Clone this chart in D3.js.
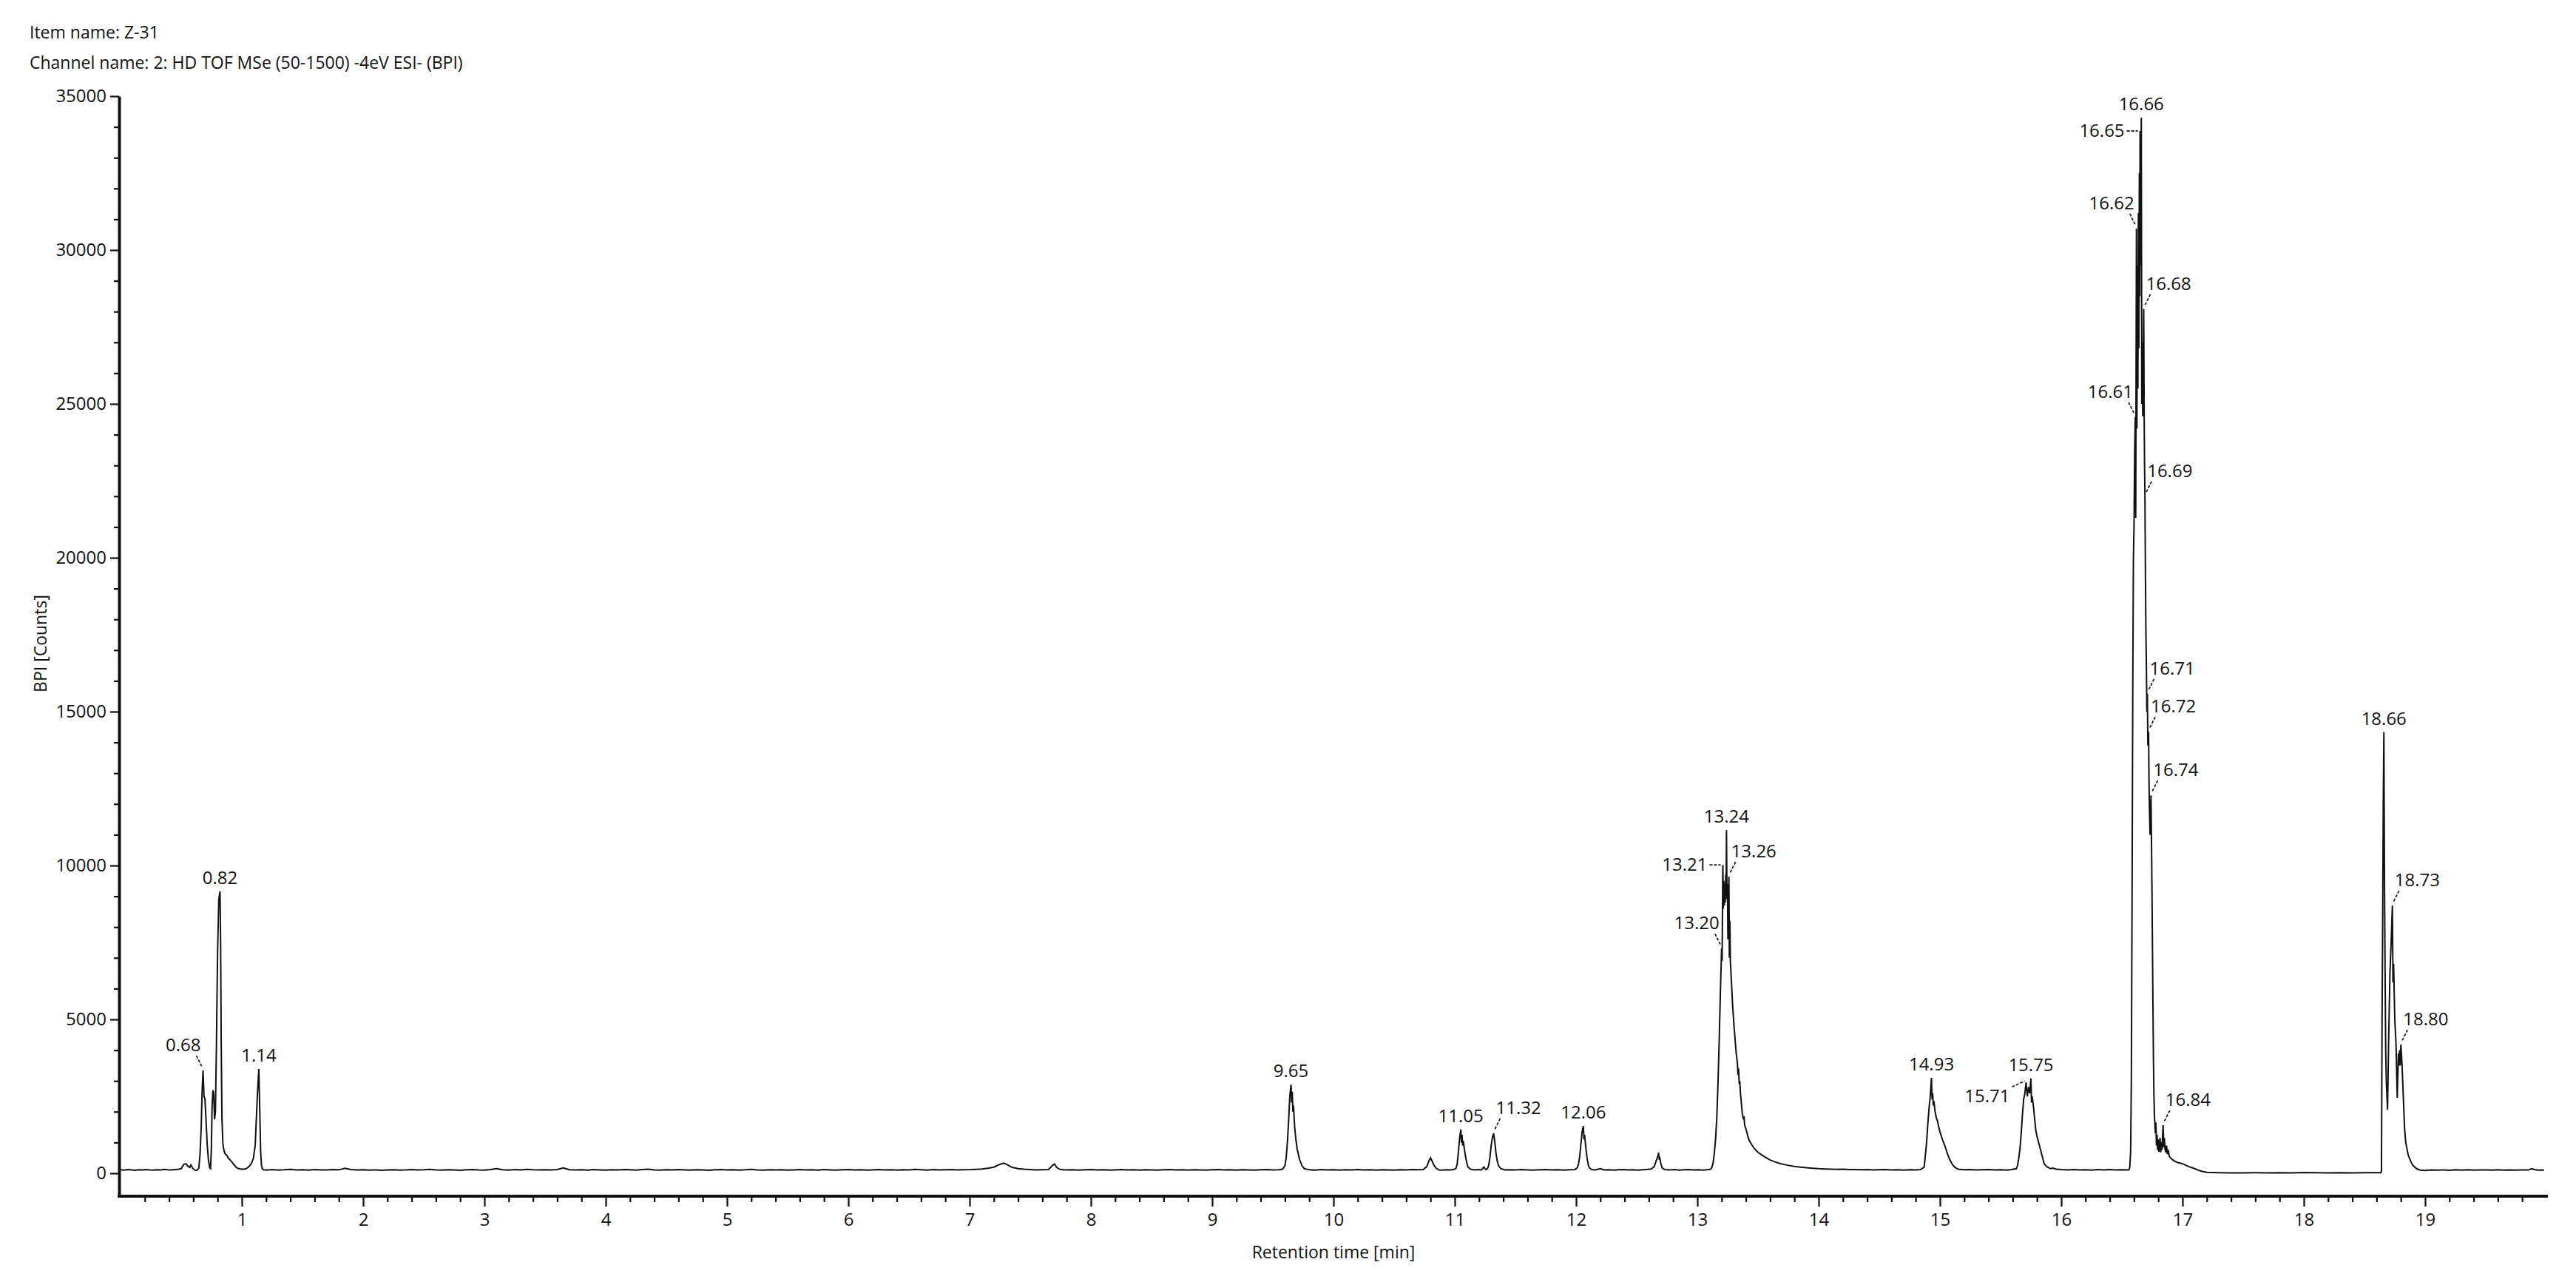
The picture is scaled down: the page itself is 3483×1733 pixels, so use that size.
<!DOCTYPE html>
<html><head><meta charset="utf-8">
<script src="https://cdn.jsdelivr.net/npm/d3@7"></script>
<style>
body{margin:0;background:#fff}
svg{display:block}
text{font-family:"Open Sans","Noto Sans",sans-serif;fill:#111}
</style>
</head><body>
<svg id="chart" width="3483" height="1733"></svg>
<script>
// ---------------- DATA ----------------
const itemName = "Item name: Z-31";
const channelName = "Channel name: 2: HD TOF MSe (50-1500) -4eV ESI- (BPI)";
const xAxisTitle = "Retention time [min]";
const yAxisTitle = "BPI [Counts]";
const xTickLabels = [1,2,3,4,5,6,7,8,9,10,11,12,13,14,15,16,17,18,19];
const yTickLabels = [0,5000,10000,15000,20000,25000,30000,35000];

// chromatogram trace, [retention time (min), BPI counts]
const traceStart = [[0.00,112],[0.03,104],[0.06,118],[0.09,108],[0.12,99],[0.15,113],[0.18,106],[0.21,120],[0.24,110],[0.27,103],[0.30,117],[0.33,108],[0.36,124],[0.39,112],[0.42,106],[0.45,121],[0.48,132],[0.50,150],[0.52,285],[0.54,310],[0.555,230],[0.57,190],[0.58,270],[0.595,160],[0.61,105],[0.63,98],[0.645,160],[0.655,600],[0.665,1500],[0.672,2600],[0.68,3340],[0.688,2500],[0.696,2420],[0.705,1700],[0.715,900],[0.725,420],[0.735,180],[0.742,150],[0.748,700],[0.755,2200],[0.762,2700],[0.768,2600],[0.775,1750],[0.782,2000],[0.79,4000],[0.80,7200],[0.81,8900],[0.82,9160],[0.825,7500],[0.83,4200],[0.836,1800],[0.843,1000],[0.85,780],[0.86,650],[0.87,600],[0.88,560],[0.89,480],[0.90,450],[0.91,400],[0.92,360],[0.93,300],[0.94,260],[0.95,210],[0.96,170],[0.98,145],[1.00,130],[1.02,135],[1.04,160],[1.06,220],[1.08,330],[1.095,480],[1.11,900],[1.12,1800],[1.13,2700],[1.14,3390],[1.148,2000],[1.155,700],[1.162,250],[1.17,140],[1.18,112],[1.20,105]];

const traceEarlyBaseline = [[1.25,118],[1.30,104],[1.35,112],[1.40,126],[1.45,108],[1.50,115],[1.55,102],[1.60,121],[1.65,110],[1.70,106],[1.75,119],[1.80,112],[1.85,160],[1.90,118],[1.95,108],[2.00,114],[2.05,102],[2.10,110],[2.15,98],[2.20,108],[2.25,115],[2.30,102],[2.35,109],[2.40,121],[2.45,106],[2.50,113],[2.55,125],[2.60,110],[2.65,104],[2.70,116],[2.75,108],[2.80,99],[2.85,112],[2.90,120],[2.95,107],[3.00,104],[3.05,118],[3.10,150],[3.15,112],[3.20,105],[3.25,119],[3.30,110],[3.35,124],[3.40,112],[3.45,106],[3.50,117],[3.55,109],[3.60,122],[3.65,175],[3.70,116],[3.75,108],[3.80,113],[3.85,105],[3.90,118],[3.95,110],[4.00,101],[4.05,115],[4.10,108],[4.15,120],[4.20,112],[4.25,104],[4.30,118],[4.35,130],[4.40,110],[4.45,102],[4.50,114],[4.55,107],[4.60,119],[4.65,110],[4.70,103],[4.75,116],[4.80,109],[4.85,99],[4.90,112],[4.95,121],[5.00,108],[5.05,115],[5.10,104],[5.15,112],[5.20,125],[5.25,110],[5.30,103],[5.35,117],[5.40,108],[5.45,114],[5.50,101],[5.55,110],[5.60,120],[5.65,107],[5.70,113],[5.75,104],[5.80,118],[5.85,110],[5.90,100],[5.95,112],[6.00,122],[6.05,108],[6.10,115],[6.15,102],[6.20,111],[6.25,119],[6.30,106],[6.35,114],[6.40,104],[6.45,117],[6.50,110],[6.55,125],[6.60,112],[6.65,103],[6.70,118],[6.75,108],[6.80,113],[6.85,120],[6.90,106],[6.95,114],[7.00,118],[7.05,128],[7.10,140],[7.15,165],[7.20,200],[7.25,290],[7.28,330],[7.31,280],[7.35,190],[7.40,150],[7.45,130],[7.50,118],[7.55,110],[7.60,115],[7.65,120],[7.68,240],[7.70,300],[7.72,180],[7.75,118],[7.80,108],[7.85,115],[7.90,104],[7.95,112],[8.00,118],[8.05,106],[8.10,113],[8.15,102],[8.20,110],[8.25,118],[8.30,107],[8.35,114],[8.40,103],[8.45,116],[8.50,109],[8.55,100],[8.60,112],[8.65,120],[8.70,108],[8.75,114],[8.80,104],[8.85,117],[8.90,110],[8.95,102],[9.00,114],[9.05,121],[9.10,108],[9.15,113],[9.20,104],[9.25,117],[9.30,110],[9.35,102],[9.40,114],[9.45,119],[9.50,108],[9.55,112]];

const traceMiddle = [[9.58,130],[9.60,250],[9.61,500],[9.62,1000],[9.63,1700],[9.64,2500],[9.65,2880],[9.655,2300],[9.66,2650],[9.665,2000],[9.67,2200],[9.68,1500],[9.69,1100],[9.70,800],[9.72,450],[9.74,250],[9.76,150],[9.80,112],[9.85,105],[9.90,118],[9.95,108],[10.00,114],[10.05,102],[10.10,116],[10.15,109],[10.20,120],[10.25,106],[10.30,113],[10.35,104],[10.40,117],[10.45,110],[10.50,101],[10.55,115],[10.60,108],[10.65,118],[10.70,112],[10.74,120],[10.77,220],[10.79,430],[10.80,500],[10.81,420],[10.83,250],[10.85,150],[10.87,110],[10.90,104],[10.93,115],[10.96,108],[10.99,118],[11.01,160],[11.02,300],[11.03,700],[11.04,1150],[11.05,1420],[11.055,1000],[11.06,1250],[11.065,900],[11.07,1050],[11.08,760],[11.09,520],[11.10,320],[11.11,200],[11.13,130],[11.16,110],[11.19,120],[11.22,108],[11.24,200],[11.255,120],[11.27,150],[11.28,260],[11.29,520],[11.30,900],[11.31,1150],[11.32,1300],[11.33,1020],[11.34,650],[11.35,400],[11.36,250],[11.38,150],[11.41,110],[11.45,116],[11.50,106],[11.55,118],[11.60,109],[11.65,102],[11.70,114],[11.75,121],[11.80,108],[11.85,113],[11.90,104],[11.95,117],[11.99,120],[12.01,180],[12.02,300],[12.03,550],[12.04,950],[12.05,1350],[12.06,1540],[12.065,1100],[12.07,1250],[12.08,850],[12.09,520],[12.10,280],[12.11,170],[12.13,120],[12.16,110],[12.20,150],[12.23,108],[12.27,116],[12.31,104],[12.35,112],[12.39,120],[12.43,107],[12.47,113],[12.51,102],[12.55,116],[12.59,125],[12.62,140],[12.645,220],[12.66,400],[12.675,560],[12.68,670],[12.685,480],[12.69,500],[12.70,300],[12.71,170],[12.73,120],[12.77,110],[12.81,118],[12.85,105],[12.89,113],[12.93,120],[12.97,107],[13.01,114],[13.05,104],[13.09,118]];

const trace13 = [[13.11,130],[13.12,190],[13.13,350],[13.14,650],[13.15,1100],[13.16,1800],[13.17,2900],[13.18,4300],[13.19,5900],[13.195,6600],[13.20,7300],[13.204,6900],[13.207,8500],[13.21,10020],[13.214,8600],[13.218,9500],[13.222,8700],[13.226,9400],[13.230,8800],[13.234,9700],[13.237,9000],[13.24,11150],[13.244,8900],[13.248,9400],[13.252,7600],[13.256,8800],[13.26,9640],[13.264,7000],[13.268,8200],[13.272,6900],[13.28,6300],[13.29,5500],[13.30,4900],[13.31,4400],[13.32,3900],[13.33,3600],[13.335,3200],[13.34,3400],[13.345,2900],[13.35,3000],[13.355,2600],[13.36,2400],[13.37,1950],[13.38,1750],[13.385,1850],[13.39,1550],[13.40,1450],[13.41,1300],[13.42,1150],[13.43,1050],[13.45,920],[13.47,800],[13.50,680],[13.53,600],[13.56,520],[13.60,430],[13.64,370],[13.68,320],[13.72,280],[13.76,250],[13.80,220],[13.85,200],[13.90,180],[13.95,165],[14.00,150],[14.05,140],[14.10,132],[14.15,125],[14.20,130],[14.25,118],[14.30,122],[14.35,112],[14.40,119],[14.45,108],[14.50,115],[14.55,120],[14.60,106],[14.65,114],[14.70,104],[14.75,117],[14.80,110],[14.84,120]];

const trace15 = [[14.87,200],[14.88,600],[14.89,1000],[14.90,1600],[14.91,2100],[14.92,2500],[14.93,3100],[14.935,2400],[14.94,2600],[14.945,2200],[14.95,2350],[14.96,2000],[14.97,1800],[14.98,1700],[14.99,1500],[15.00,1350],[15.02,1100],[15.04,900],[15.06,650],[15.08,450],[15.10,300],[15.12,200],[15.15,130],[15.20,112],[15.25,118],[15.30,106],[15.35,113],[15.40,120],[15.45,108],[15.50,115],[15.55,104],[15.59,118],[15.63,150],[15.64,250],[15.65,500],[15.66,800],[15.67,1300],[15.68,1900],[15.69,2400],[15.70,2600],[15.71,2950],[15.72,2500],[15.73,2800],[15.74,2600],[15.75,3080],[15.755,2300],[15.76,2500],[15.77,2200],[15.78,1800],[15.79,1400],[15.80,1200],[15.82,900],[15.84,600],[15.86,300],[15.88,220],[15.91,150],[15.93,170],[15.96,135],[16.00,118],[16.05,110],[16.10,120],[16.15,106],[16.20,114],[16.25,104],[16.30,118],[16.35,110],[16.40,122],[16.45,108],[16.50,115],[16.55,110],[16.56,120]];

const trace16 = [[16.565,200],[16.572,700],[16.578,3000],[16.584,9000],[16.590,16000],[16.595,20000],[16.600,21000],[16.605,23300],[16.610,24570],[16.614,21300],[16.617,26000],[16.620,30700],[16.624,24200],[16.628,29500],[16.632,25500],[16.636,31200],[16.640,26800],[16.644,32500],[16.647,28500],[16.650,33870],[16.654,29500],[16.657,32000],[16.660,34300],[16.664,25000],[16.668,27000],[16.672,24600],[16.676,26500],[16.680,28080],[16.684,24400],[16.687,23000],[16.690,22000],[16.694,19500],[16.698,17600],[16.702,16500],[16.706,15000],[16.710,15580],[16.714,13900],[16.717,14100],[16.720,14350],[16.724,12600],[16.728,11700],[16.732,11000],[16.736,11600],[16.740,12280],[16.744,10800],[16.748,9200],[16.752,7400],[16.756,5500],[16.760,3800],[16.764,2600],[16.768,1900],[16.772,1600],[16.776,1300],[16.780,1650],[16.785,900],[16.790,1250],[16.795,750],[16.800,1100],[16.805,700],[16.810,950],[16.815,1150],[16.820,680],[16.826,1000],[16.831,760],[16.836,1250],[16.840,1560],[16.845,850],[16.850,1150],[16.856,780],[16.862,680],[16.868,900],[16.875,620],[16.882,760],[16.89,560],[16.90,500],[16.92,430],[16.94,380],[16.96,350],[16.98,330],[17.00,310],[17.05,220],[17.10,150],[17.15,70],[17.20,30],[17.25,22],[17.30,18],[17.40,15],[17.50,12],[17.60,16],[17.70,10],[17.80,18],[17.90,14],[18.00,22],[18.10,16],[18.20,12],[18.30,18],[18.40,14],[18.50,20],[18.60,16],[18.635,18]];

const trace18 = [[18.64,60],[18.645,5000],[18.65,8100],[18.655,12000],[18.66,14330],[18.665,9500],[18.67,6500],[18.675,4000],[18.68,3000],[18.69,2070],[18.70,4500],[18.71,6500],[18.72,7500],[18.73,8700],[18.735,6200],[18.74,6800],[18.75,5000],[18.76,4200],[18.77,2450],[18.78,3900],[18.785,3500],[18.79,4000],[18.795,3500],[18.80,4180],[18.81,3500],[18.82,2500],[18.83,1500],[18.84,1000],[18.86,600],[18.88,400],[18.90,250],[18.93,150],[18.96,100],[19.00,90],[19.05,110],[19.10,100],[19.15,108],[19.20,98],[19.25,112],[19.30,104],[19.35,115],[19.40,102],[19.45,110],[19.50,106],[19.55,100],[19.60,112],[19.65,104],[19.70,108],[19.75,100],[19.80,110],[19.85,106],[19.88,150],[19.90,120],[19.93,100],[19.96,108],[19.98,102]];

// peak annotations
const peakTimes = [0.68,0.82,1.14,9.65,11.05,11.32,12.06,13.20,13.21,13.24,13.26,14.93,15.71,15.75,16.61,16.62,16.65,16.66,16.68,16.69,16.71,16.72,16.74,16.84,18.66,18.73,18.80];
const peakTexts = ["0.68","0.82","1.14","9.65","11.05","11.32","12.06","13.20","13.21","13.24","13.26","14.93","15.71","15.75","16.61","16.62","16.65","16.66","16.68","16.69","16.71","16.72","16.74","16.84","18.66","18.73","18.80"];

// ---------------- LAYOUT / STYLE ----------------
const peakPlacement = ["upLeft","above","above","above","above","upRight","above","upLeft","left","above","upRight","above","downLeft","above","upLeft","upLeft","left","above","upRight","upRight","upRight","upRight","upRight","upRight","above","upRight","upRight"];
const placements = {
  above:   {anchor:"middle", dx:0,   dy:-10, leader:null},
  upLeft:  {anchor:"end",    dx:-3,  dy:-26, leader:[-9,-20,-1,-4]},
  upRight: {anchor:"start",  dx:3,   dy:-26, leader:[9,-20,1,-4]},
  left:    {anchor:"end",    dx:-21, dy:8,   leader:[-18,0,-3,0]},
  downLeft:{anchor:"end",    dx:-22, dy:27,  leader:[-19,6,-2,-2]}
};
const fontSize = 24;

const trace = [].concat(traceStart, traceEarlyBaseline, traceMiddle, trace13, trace15, trace16, trace18);

const svg = d3.select("#chart");
const x = d3.scaleLinear().domain([0,20]).range([163,3443]);
const y = d3.scaleLinear().domain([-745,35000]).range([1617,130]);

// header
svg.append("text").attr("x",40).attr("y",52).style("font-size","23px").text(itemName);
svg.append("text").attr("x",40).attr("y",93).style("font-size","23px").text(channelName);

// y axis
const yMinor = d3.range(0,35001,1000).filter(v => v % 5000 !== 0);
const gyMinor = svg.append("g").attr("transform","translate(161,0)")
  .call(d3.axisLeft(y).tickValues(yMinor).tickSize(7).tickFormat(""));
gyMinor.select(".domain").remove();
const gy = svg.append("g").attr("transform","translate(161,0)")
  .call(d3.axisLeft(y).tickValues(yTickLabels).tickSize(12).tickSizeOuter(0).tickPadding(5).tickFormat(d3.format("d")));
gy.select(".domain").attr("stroke-width",4).attr("stroke","#111");
svg.selectAll("g .tick line").attr("stroke","#111").attr("stroke-width",2.2);

// x axis
const xMinor = d3.range(1,100).map(i => i*0.2).filter(v => Math.abs(v - Math.round(v)) > 1e-6);
const gxMinor = svg.append("g").attr("transform","translate(0,1617)")
  .call(d3.axisBottom(x).tickValues(xMinor).tickSize(8).tickFormat(""));
gxMinor.select(".domain").remove();
const gx = svg.append("g").attr("transform","translate(0,1617)")
  .call(d3.axisBottom(x).tickValues(xTickLabels).tickSize(14).tickSizeOuter(0).tickPadding(9).tickFormat(d3.format("d")));
gx.select(".domain").attr("stroke-width",4).attr("stroke","#111").attr("d","M159,0H3445");
svg.selectAll(".tick line").attr("stroke","#111").attr("stroke-width",2.2);
svg.selectAll(".tick text").style("font-size",fontSize+"px").attr("fill","#111");

// axis titles
svg.append("text").attr("x",(x(0)+x(20))/2).attr("y",1701).attr("text-anchor","middle")
  .style("font-size","23px").text(xAxisTitle);
svg.append("text").attr("transform","translate(63,870) rotate(-90)").attr("text-anchor","middle")
  .style("font-size","23px").text(yAxisTitle);

// trace
const line = d3.line().x(d => x(d[0])).y(d => y(d[1]));
svg.append("path").datum(trace).attr("d",line)
  .attr("fill","none").attr("stroke","#111").attr("stroke-width",2).attr("stroke-linejoin","miter");

// peak labels
const gl = svg.append("g");
peakTimes.forEach((t,i) => {
  const pt = d3.least(trace, d => Math.abs(d[0]-t));
  const px = x(pt[0]), py = y(pt[1]);
  const p = placements[peakPlacement[i]];
  gl.append("text").attr("x",px+p.dx).attr("y",py+p.dy).attr("text-anchor",p.anchor)
    .style("font-size",fontSize+"px").text(peakTexts[i]);
  if (p.leader) {
    gl.append("line").attr("x1",px+p.leader[0]).attr("y1",py+p.leader[1])
      .attr("x2",px+p.leader[2]).attr("y2",py+p.leader[3])
      .attr("stroke","#222").attr("stroke-width",1.8).attr("stroke-dasharray","4,2");
  }
});
</script>
</body></html>
